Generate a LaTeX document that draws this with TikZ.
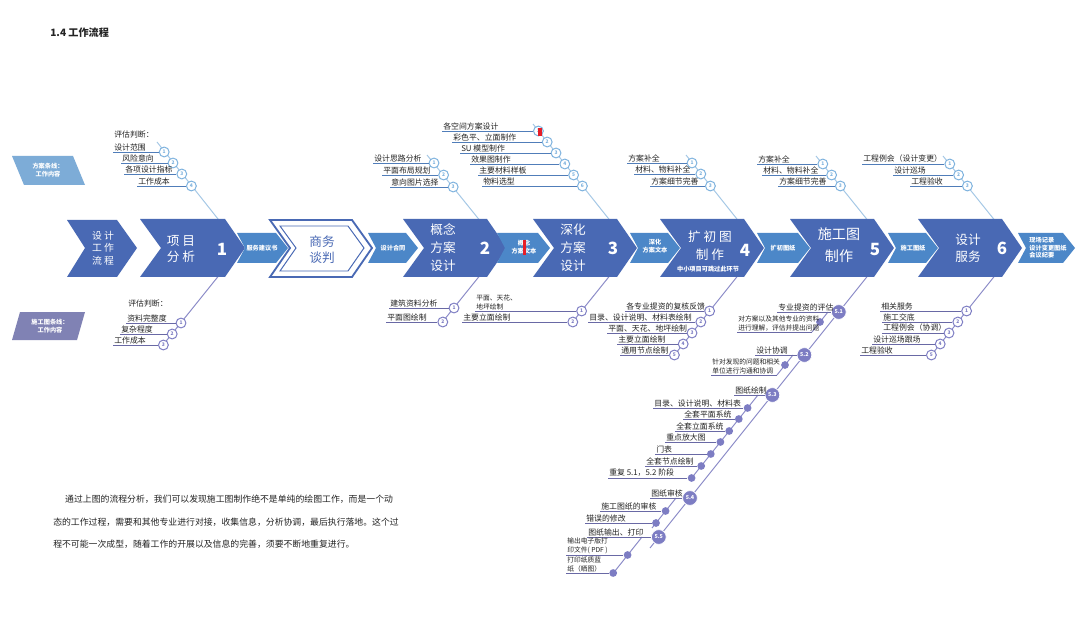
\documentclass[tikz,border=0pt]{standalone}
\usepackage{fontspec}
\setmainfont{Noto Sans CJK SC}
\usepackage{tikz}
\usetikzlibrary{calc}
\definecolor{chevdark}{RGB}{73,105,180}
\definecolor{chevlight}{RGB}{76,135,200}
\definecolor{legtop}{RGB}{125,172,215}
\definecolor{legbot}{RGB}{128,130,180}
\definecolor{bonetop}{RGB}{165,200,230}
\definecolor{ringtop}{RGB}{125,178,222}
\definecolor{bonebot}{RGB}{140,140,200}
\definecolor{dotbot}{RGB}{125,125,195}
\definecolor{ultop}{RGB}{80,125,185}
\definecolor{ulbot}{RGB}{105,105,165}
\definecolor{mytext}{RGB}{35,35,35}
\definecolor{myred}{RGB}{230,30,40}
\tikzset{
  bigchev/.style={fill=chevdark, draw=none},
  smallchev/.style={fill=chevlight, draw=none},
  chevtext/.style={text=white, align=center, inner sep=0pt, font=\fontsize{9}{12.8}\selectfont},
  numtext/.style={text=white, inner sep=0pt, font=\fontsize{12}{12}\selectfont\bfseries},
  smalltext/.style={text=white, align=center, inner sep=0pt, font=\fontsize{4.4}{5.4}\selectfont\bfseries},
  legtext/.style={text=white, align=center, inner sep=0pt, font=\fontsize{4.4}{6}\selectfont\bfseries},
  lbl/.style={anchor=south west, inner sep=0.7pt, text=mytext, align=left, font=\fontsize{5.6}{6.6}\selectfont},
  lbltwo/.style={lbl, font=\fontsize{4.8}{6.2}\selectfont},
  topdot/.style={circle, draw=ringtop, fill=white, line width=0.7pt, inner sep=0pt, minimum size=7pt, text=ringtop, font=\fontsize{3.5}{3.5}\selectfont\bfseries},
  botdot/.style={topdot, draw=dotbot, text=dotbot},
  stepdot/.style={circle, fill=dotbot, draw=white, line width=0.5pt, inner sep=0pt, minimum size=10.5pt, text=white, font=\fontsize{3.8}{3.8}\selectfont\bfseries},
  subdot/.style={circle, fill=dotbot, inner sep=0pt, minimum size=5.5pt},
  topbone/.style={bonetop, line width=0.7pt},
  botbone/.style={bonebot, line width=0.7pt},
  topul/.style={ultop, line width=0.5pt},
  botul/.style={ulbot, line width=0.5pt}
}
\begin{document}
\begin{tikzpicture}[x=0.025cm, y=-0.025cm]
  \fill[white] (0,0) rectangle (1080,617);
  \useasboundingbox (0,0) rectangle (1080,617);

  % Title
  \node[anchor=west, inner sep=0pt, text=mytext, font=\fontsize{7.2}{8}\selectfont\bfseries] (title) at (50,33) {1.4 工作流程};

  % Legends
  \fill[legtop] (12,156) -- (73,156) -- (85,185) -- (24,185) -- cycle;
  \node[legtext] (legA) at (48,170) {方案条线：\\工作内容};
  \fill[legbot] (20,312) -- (85,312) -- (77,340) -- (12,340) -- cycle;
  \node[legtext] (legB) at (50,326) {施工图条线：\\工作内容};

  % Tips where the bones meet
  \coordinate (t1) at (241,248);
  \coordinate (t2) at (502,248);
  \coordinate (t3) at (632,248);
  \coordinate (t4) at (760,248);
  \coordinate (t5) at (890,248);
  \coordinate (t6) at (1017,248);

  % Top bones
  \coordinate (u1) at (157,142);
  \draw[topbone] (u1) -- (t1);
  \node[lbl] (ha1) at (113,139) {评估判断：};
  \foreach \i/\yy/\xx/\txt in {1/152/113/设计范围, 2/163/121/风险意向, 3/174/124/各项设计指标, 4/186/137/工作成本}{
    \node[topdot] (a1\i) at ({241-(248-\yy)/1.25},\yy) {\i};
    \node[lbl] (la1\i) at (\xx,\yy) {\txt};
    \draw[topul] (la1\i.south west) -- (a1\i);
  }
  \coordinate (u2) at (427,155);
  \draw[topbone] (u2) -- (t2);
  \foreach \i/\yy/\xx/\txt in {1/163/373/设计思路分析, 2/175/382/平面布局规划, 3/187/390/意向图片选择}{
    \node[topdot] (a2\i) at ({502-(248-\yy)/1.25},\yy) {\i};
    \node[lbl] (la2\i) at (\xx,\yy) {\txt};
    \draw[topul] (la2\i.south west) -- (a2\i);
  }
  \coordinate (u3) at (533,124);
  \draw[topbone] (u3) -- (t3);
  \foreach \i/\yy/\xx/\txt in {1/131/442/各空间方案设计, 2/142/452/彩色平、立面制作, 3/153/460/SU 模型制作, 4/164/470/效果图制作, 5/175/478/主要材料样板, 6/186/482/物料选型}{
    \node[topdot] (a3\i) at ({632-(248-\yy)/1.25},\yy) {\i};
    \node[lbl] (la3\i) at (\xx,\yy) {\txt};
    \draw[topul] (la3\i.south west) -- (a3\i);
  }
  \fill[myred] (538,128) rectangle (541.5,136);
  \coordinate (u4) at (686,155);
  \draw[topbone] (u4) -- (t4);
  \foreach \i/\yy/\xx/\txt in {1/163/627/方案补全, 2/174/634/材料、物料补全, 3/186/650/方案细节完善}{
    \node[topdot] (a4\i) at ({760-(248-\yy)/1.25},\yy) {\i};
    \node[lbl] (la4\i) at (\xx,\yy) {\txt};
    \draw[topul] (la4\i.south west) -- (a4\i);
  }
  \coordinate (u5) at (816,156);
  \draw[topbone] (u5) -- (t5);
  \foreach \i/\yy/\xx/\txt in {1/164/757/方案补全, 2/175/762/材料、物料补全, 3/186/778/方案细节完善}{
    \node[topdot] (a5\i) at ({890-(248-\yy)/1.25},\yy) {\i};
    \node[lbl] (la5\i) at (\xx,\yy) {\txt};
    \draw[topul] (la5\i.south west) -- (a5\i);
  }
  \coordinate (u6) at (943,156);
  \draw[topbone] (u6) -- (t6);
  \foreach \i/\yy/\xx/\txt in {1/164/862/工程例会（设计变更）, 2/175/893/设计巡场, 3/186/910/工程验收}{
    \node[topdot] (a6\i) at ({1017-(248-\yy)/1.25},\yy) {\i};
    \node[lbl] (la6\i) at (\xx,\yy) {\txt};
    \draw[topul] (la6\i.south west) -- (a6\i);
  }

  % Bottom bones
  \coordinate (w1) at (163,345);
  \draw[botbone] (t1) -- (w1);
  \node[lbl] (hb1) at (127,308) {评估判断：};
  \foreach \i/\yy/\xx/\txt in {1/323/126/资料完整度, 2/334/120/复杂程度, 3/345/113/工作成本}{
    \node[botdot] (b1\i) at ({241-(\yy-248)/1.25},\yy) {\i};
    \node[lbl] (lb1\i) at (\xx,\yy) {\txt};
    \draw[botul] (lb1\i.south west) -- (b1\i);
  }
  \coordinate (w2) at (440,325);
  \draw[botbone] (t2) -- (w2);
  \foreach \i/\yy/\xx/\txt in {1/308/389/建筑资料分析, 2/322/386/平面图绘制}{
    \node[botdot] (b2\i) at ({502-(\yy-248)/1.25},\yy) {\i};
    \node[lbl] (lb2\i) at (\xx,\yy) {\txt};
    \draw[botul] (lb2\i.south west) -- (b2\i);
  }
  \coordinate (w3) at (571,324);
  \draw[botbone] (t3) -- (w3);
  \node[botdot] (b31) at ({632-(311-248)/1.25},311) {1};
  \node[lbltwo] (lb31) at (475,311) {平面、天花、\\地坪绘制};
  \draw[botul] (lb31.south west) -- (b31);
  \node[botdot] (b32) at ({632-(322-248)/1.25},322) {2};
  \node[lbl] (lb32) at (462,322) {主要立面绘制};
  \draw[botul] (lb32.south west) -- (b32);
  \coordinate (w4) at (672,358);
  \draw[botbone] (t4) -- (w4);
  \foreach \i/\yy/\xx/\txt in {1/311/625/各专业提资的复核反馈, 2/322/588/目录、设计说明、材料表绘制, 3/333/607/平面、天花、地坪绘制, 4/344/617/主要立面绘制, 5/355/620/通用节点绘制}{
    \node[botdot] (b4\i) at ({760-(\yy-248)/1.25},\yy) {\i};
    \node[lbl] (lb4\i) at (\xx,\yy) {\txt};
    \draw[botul] (lb4\i.south west) -- (b4\i);
  }
  \coordinate (w6) at (929,358);
  \draw[botbone] (t6) -- (w6);
  \foreach \i/\yy/\xx/\txt in {1/311/880/相关服务, 2/322/882/施工交底, 3/333/882/工程例会（协调）, 4/344/872/设计巡场跟场, 5/355/860/工程验收}{
    \node[botdot] (b6\i) at ({1017-(\yy-248)/1.25},\yy) {\i};
    \node[lbl] (lb6\i) at (\xx,\yy) {\txt};
    \draw[botul] (lb6\i.south west) -- (b6\i);
  }

  % Bone 5 with its steps
  \coordinate (w5) at (650,548);
  \draw[botbone] (t5) -- (w5);
  % sub bones
  \coordinate (p1) at (828,312); \coordinate (q1) at (812,332);
  \coordinate (p2) at (793,355); \coordinate (q2) at (777,375);
  \coordinate (p3) at (758,395); \coordinate (q3) at (690,480);
  \coordinate (p4) at (676,498); \coordinate (q4) at (652,528);
  \coordinate (p5) at (642,537); \coordinate (q5) at (611,576);
  \foreach \k in {1,...,5}{
    \draw[botbone] (p\k) -- (q\k);
  }
  \foreach \i/\yy/\xx/\txt in {1/312/777/专业提资的评估, 2/355/755/设计协调, 3/395/734/图纸绘制, 4/498/650/图纸审核, 5/537/587/图纸输出、打印}{
    \node[stepdot] (s5\i) at ({890-(\yy-248)/1.25},\yy) {5.\i};
    \node[lbl] (ls5\i) at (\xx,\yy) {\txt};
    \draw[botul] (ls5\i.south west) -- (s5\i);
  }
  % step 5.1 and 5.2
  \node[subdot] (d11) at (820,322) {};
  \node[lbltwo] (ld11) at (737,332) {对方案以及其他专业的资料\\进行理解，评估并提出问题};
  \draw[botul] (ld11.south west) -- (q1);
  \node[subdot] (d21) at (785,365) {};
  \node[lbltwo] (ld21) at (711,375) {针对发现的问题和相关\\单位进行沟通和协调};
  \draw[botul] (ld21.south west) -- (q2);
  % step 5.3
  \foreach \i/\yy/\xx/\txt in {1/408/653/目录、设计说明、材料表, 2/419/683/全套平面系统, 3/431/675/全套立面系统, 4/442/665/重点放大图, 5/454/655/门表, 6/466/645/全套节点绘制, 7/478/608/重复 5.1，5.2 阶段}{
    \node[subdot] (d3\i) at ({758-(\yy-395)/1.25},\yy) {};
    \node[lbl] (ld3\i) at (\xx,\yy) {\txt};
    \draw[botul] (ld3\i.south west) -- (d3\i);
  }
  % step 5.4
  \foreach \i/\yy/\xx/\txt in {1/511/600/施工图纸的审核, 2/523/585/错误的修改}{
    \node[subdot] (d4\i) at ({676-(\yy-498)/1.25},\yy) {};
    \node[lbl] (ld4\i) at (\xx,\yy) {\txt};
    \draw[botul] (ld4\i.south west) -- (d4\i);
  }
  % step 5.5
  \foreach \i/\yy/\xx/\txt in {1/555/566/{输出电子版打\\印文件( PDF )}, 2/573/566/{打印纸质蓝\\纸（晒图）}}{
    \node[subdot] (d5\i) at ({642-(\yy-537)/1.25},\yy) {};
    \node[lbltwo] (ld5\i) at (\xx,\yy) {\txt};
    \draw[botul] (ld5\i.south west) -- (d5\i);
  }

  % Big chevrons
  \fill[bigchev] (67,220) -- (117,220) -- (137,248) -- (117,277) -- (67,277) -- (85,248) -- cycle;
  \foreach \xl/\xt in {140/245, 403/507, 533/637, 660/764, 790/894, 918/1022}{
    \fill[bigchev] (\xl,219) -- (\xt-20,219) -- (\xt,248) -- (\xt-20,277) -- (\xl,277) -- (\xl+21,248) -- cycle;
  }
  % Small chevrons
  \foreach \xl/\xt in {237/288, 368/418, 497/550, 630/680, 757/810, 888/938, 1018/1075}{
    \fill[smallchev] (\xl,233) -- (\xt-12,233) -- (\xt,248) -- (\xt-12,263) -- (\xl,263) -- (\xl+8,248) -- cycle;
  }
  % Outline chevron
  \draw[chevdark, line width=1.3pt, fill=white] (270,220) -- (352,220) -- (372,248) -- (352,277) -- (270,277) -- (290,248) -- cycle;
  \draw[chevdark, line width=0.7pt] (280,226) -- (348,226) -- (364,248) -- (348,271) -- (280,271) -- (296,248) -- cycle;

  % Chevron texts
  \node[chevtext, font=\fontsize{7}{8.9}\selectfont] (c0) at (103,248) {设 计\\工 作\\流 程};
  \node[chevtext, font=\fontsize{9}{11}\selectfont] (c1) at (181,249) {项 目\\分 析};
  \node[numtext] (n1) at (222,249) {1};
  \node[chevtext, text=chevdark, font=\fontsize{9}{11.3}\selectfont] (ct) at (322,250) {商务\\谈判};
  \node[chevtext] (c2) at (443,248) {概念\\方案\\设计};
  \node[numtext] (n2) at (485,248) {2};
  \node[chevtext] (c3) at (573,248) {深化\\方案\\设计};
  \node[numtext] (n3) at (613,248) {3};
  \node[chevtext] (c4) at (710,246) {扩 初 图\\制 作};
  \node[smalltext, font=\fontsize{4.4}{5}\selectfont\bfseries] (c4note) at (708,269) {中小项目可跳过此环节};
  \node[numtext] (n4) at (745,250) {4};
  \node[chevtext, font=\fontsize{10}{16}\selectfont] (c5) at (839,245) {施工图\\制作};
  \node[numtext] (n5) at (875,249) {5};
  \node[chevtext, font=\fontsize{9}{12}\selectfont] (c6) at (968,248) {设计\\服务};
  \node[numtext] (n6) at (1002,248) {6};

  % Small chevron texts
  \node[smalltext] (m1) at (262,248) {服务建议书};
  \node[smalltext] (m2) at (393,248) {设计合同};
  \node[smalltext] (m3) at (524,247) {概念\\方案文本};
  \fill[myred] (523,240) rectangle (526,255);
  \node[smalltext] (m4) at (655,246) {深化\\方案文本};
  \node[smalltext] (m5) at (783,248) {扩初图纸};
  \node[smalltext] (m6) at (913,248) {施工图纸};
  \node[smalltext, align=left] (m7) at (1048,248) {现场记录\\设计变更图纸\\会议纪要};

  % Paragraph
  \node[anchor=north west, align=left, inner sep=0pt, text=mytext, font=\fontsize{6.3}{16}\selectfont] (para) at (53,495) {\hspace*{8.5pt}通过上图的流程分析，我们可以发现施工图制作绝不是单纯的绘图工作，而是一个动\\态的工作过程，需要和其他专业进行对接，收集信息，分析协调，最后执行落地。这个过\\程不可能一次成型，随着工作的开展以及信息的完善，须要不断地重复进行。};
\end{tikzpicture}
\end{document}
